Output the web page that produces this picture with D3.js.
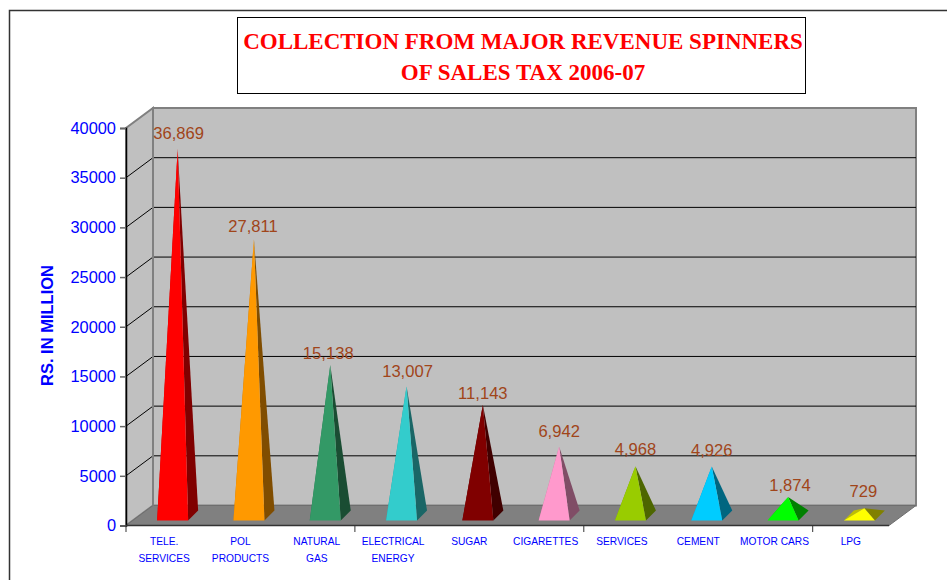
<!DOCTYPE html>
<html>
<head>
<meta charset="utf-8">
<script src="https://cdn.jsdelivr.net/npm/d3@7"></script>
<style>
    html, body { margin: 0; padding: 0; background: #fff; overflow: hidden; }
    svg { display: block; }
    text { font-family: "Liberation Sans", Arial, sans-serif; }
</style>
</head>
<body>
<div id="chart"></div>
<script>
// values
let categories = ["TELE. SERVICES", "POL PRODUCTS", "NATURAL GAS", "ELECTRICAL ENERGY", "SUGAR", "CIGARETTES", "SERVICES", "CEMENT", "MOTOR CARS", "LPG"]
let categoryLines = [["TELE.", "SERVICES"], ["POL", "PRODUCTS"], ["NATURAL", "GAS"], ["ELECTRICAL", "ENERGY"], ["SUGAR"], ["CIGARETTES"], ["SERVICES"], ["CEMENT"], ["MOTOR CARS"], ["LPG"]]
let values = [36869, 27811, 15138, 13007, 11143, 6942, 4968, 4926, 1874, 729]
let yTicks = [0, 5000, 10000, 15000, 20000, 25000, 30000, 35000, 40000]
let frontColors = ["#ff0000", "#ff9900", "#339966", "#33cccc", "#800000", "#ff99cc", "#99cc00", "#00ccff", "#00ff00", "#ffff00"]
let sideColors = ["#800000", "#804d00", "#1a4d33", "#1a6666", "#400000", "#804d66", "#4d6600", "#006680", "#008000", "#808000"]
let leftColors = ["#bf0000", "#bf7300", "#267350", "#269999", "#600000", "#bf7399", "#739900", "#0099bf", "#00bf00", "#bfbf00"]
let titleLines = ["COLLECTION FROM MAJOR REVENUE SPINNERS", "OF SALES TAX 2006-07"]

let depthX = 27, depthY = 20

let svg = d3.select("#chart").append("svg").attr("width", 947).attr("height", 580)

let x = d3.scaleBand().domain(categories).range([126, 889])
let y = d3.scaleLinear().domain([0, 40000]).range([525.5, 128])

// outer frame runs off the page on the right and bottom
svg.append("rect").attr("x", 9.5).attr("y", 10.5).attr("width", 1000).attr("height", 700)
    .attr("fill", "#fff").attr("stroke", "#333").attr("stroke-width", 1.5)

// title box
svg.append("rect").attr("x", 237.5).attr("y", 17.5).attr("width", 568).attr("height", 76)
    .attr("fill", "#fff").attr("stroke", "#000").attr("stroke-width", 1)

svg.selectAll(".title")
    .data(titleLines)
    .enter()
    .append("text")
    .attr("class", "title")
    .attr("x", 523)
    .attr("y", function (d, i) { return 49 + i * 31 })
    .attr("text-anchor", "middle")
    .style("font-family", "'Liberation Serif', 'Times New Roman', serif")
    .style("font-weight", "bold")
    .style("font-size", "23px")
    .style("fill", "#ff0000")
    .text(function (d) { return d })

let x0 = x.range()[0], x1 = x.range()[1], y0 = y(0), yTop = y(40000)

function pts(list) {
    return list.map(function (p) { return p.join(",") }).join(" ")
}

// back wall, side wall and floor
svg.append("polygon")
    .attr("points", pts([[x0 + depthX, y0 - depthY], [x1 + depthX, y0 - depthY], [x1 + depthX, yTop - depthY], [x0 + depthX, yTop - depthY]]))
    .attr("fill", "#c0c0c0").attr("stroke", "#808080").attr("stroke-width", 2)
svg.append("polygon")
    .attr("points", pts([[x0, y0], [x0 + depthX, y0 - depthY], [x0 + depthX, yTop - depthY], [x0, yTop]]))
    .attr("fill", "#c0c0c0").attr("stroke", "#808080").attr("stroke-width", 2)
svg.append("polygon")
    .attr("points", pts([[x0, y0], [x1, y0], [x1 + depthX, y0 - depthY], [x0 + depthX, y0 - depthY]]))
    .attr("fill", "#808080").attr("stroke", "#6e6e6e").attr("stroke-width", 1)

// gridlines, wrapped round the side wall
let gridTicks = yTicks.filter(function (d) { return d > 0 && d < 40000 })
svg.selectAll(".grid")
    .data(gridTicks)
    .enter()
    .append("polyline")
    .attr("class", "grid")
    .attr("points", function (d) {
        return pts([[x0, y(d)], [x0 + depthX, y(d) - depthY], [x1 + depthX, y(d) - depthY]])
    })
    .attr("fill", "none").attr("stroke", "#000").attr("stroke-width", 1)

svg.append("line").attr("x1", x0 + depthX).attr("x2", x0 + depthX)
    .attr("y1", y0 - depthY).attr("y2", yTop - depthY)
    .attr("stroke", "#808080").attr("stroke-width", 2)

// y axis
let yAxis = d3.axisLeft(y).tickValues(yTicks).tickSize(6).tickPadding(4).tickFormat(d3.format("d"))
let yG = svg.append("g").attr("transform", "translate(" + x0 + ",0)").call(yAxis)
yG.select(".domain").attr("stroke", "#000").attr("stroke-width", 1.5)
yG.selectAll(".tick line").attr("stroke", "#666").attr("stroke-width", 1.5)
yG.selectAll(".tick text").style("font-size", "16.4px").style("font-family", "'Liberation Sans', Arial, sans-serif").style("fill", "#0000ff")

svg.append("text")
    .attr("transform", "translate(53,325.5) rotate(-90)")
    .attr("text-anchor", "middle")
    .style("font-weight", "bold")
    .style("font-size", "16.5px")
    .style("fill", "#0000ff")
    .text("RS. IN MILLION")

// x axis: line plus a tick every third category
svg.append("line").attr("x1", x0).attr("x2", x1).attr("y1", y0).attr("y2", y0)
    .attr("stroke", "#333").attr("stroke-width", 1.5)
svg.selectAll(".xtick")
    .data([0, 3, 6, 9])
    .enter()
    .append("line")
    .attr("class", "xtick")
    .attr("x1", function (d) { return x(categories[d]) })
    .attr("x2", function (d) { return x(categories[d]) })
    .attr("y1", y0).attr("y2", y0 + 6.5)
    .attr("stroke", "#333").attr("stroke-width", 1)

let xLabels = svg.selectAll(".xlabel")
    .data(categories)
    .enter()
    .append("text")
    .attr("class", "xlabel")
    .attr("text-anchor", "middle")
    .style("font-size", "10.2px")
    .style("fill", "#0000ff")

xLabels.selectAll("tspan")
    .data(function (d, i) {
        return categoryLines[i].map(function (line) { return { line: line, cat: d } })
    })
    .enter()
    .append("tspan")
    .attr("x", function (d) { return x(d.cat) + x.bandwidth() / 2 })
    .attr("y", function (d, i) { return 545 + i * 17 })
    .text(function (d) { return d.line })

// pyramids
let halfW = 15.5, halfD = 5

let bars = svg.selectAll(".bar")
    .data(values)
    .enter()
    .append("g")
    .attr("class", "bar")

function corners(d, i) {
    let cx = x(categories[i]) + x.bandwidth() / 2 + depthX / 2
    let base = y0 - depthY / 2
    return {
        apex: [cx, y(d) - depthY / 2],
        fl: [cx - halfW - halfD, base + halfD],
        fr: [cx + halfW - halfD, base + halfD],
        br: [cx + halfW + halfD, base - halfD],
        bl: [cx - halfW + halfD, base - halfD]
    }
}

bars.append("polygon")
    .attr("points", function (d, i) { let c = corners(d, i); return pts([c.fl, c.bl, c.apex]) })
    .attr("fill", function (d, i) { return leftColors[i] })
bars.append("polygon")
    .attr("points", function (d, i) { let c = corners(d, i); return pts([c.fr, c.br, c.apex]) })
    .attr("fill", function (d, i) { return sideColors[i] })
bars.append("polygon")
    .attr("points", function (d, i) { let c = corners(d, i); return pts([c.fl, c.fr, c.apex]) })
    .attr("fill", function (d, i) { return frontColors[i] })

// value labels were hand placed in the original, so they need a small nudge each
let nudgeX = [1, -1, -2, 1, 0, 0, 0, 0, 2, -1]
let nudgeY = [-10, -7, -6, -9, -6, -10, -11, -11, -6, -11]

svg.selectAll(".value")
    .data(values)
    .enter()
    .append("text")
    .attr("class", "value")
    .attr("x", function (d, i) { return corners(d, i).apex[0] + nudgeX[i] })
    .attr("y", function (d, i) { return corners(d, i).apex[1] + nudgeY[i] })
    .attr("text-anchor", "middle")
    .style("font-size", "16.6px")
    .style("fill", "#a0451a")
    .text(function (d) { return d3.format(",")(d) })
</script>
</body>
</html>
